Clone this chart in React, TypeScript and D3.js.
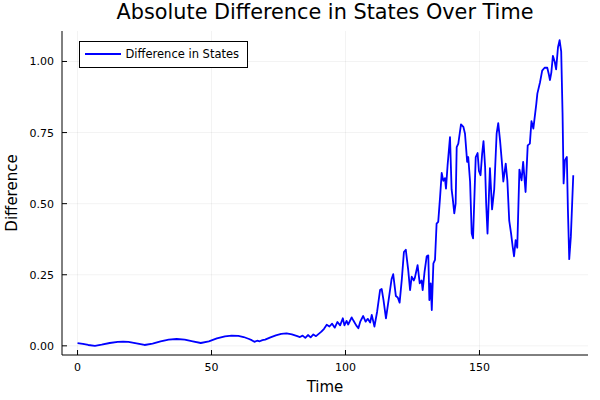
import React from "react";
import * as d3 from "d3";

const times: number[] = [
  0, 2, 4, 6.5, 9, 12, 15, 17, 19, 22, 25, 28, 31, 34, 37, 40, 43, 46, 49, 52, 55, 57.5, 60, 62, 64, 65, 66, 67, 68, 69, 70, 72, 74, 76, 78, 80, 82, 83, 84, 85, 86, 87, 88, 89, 90, 91, 92, 93, 94, 95, 96, 97, 98, 99, 99.6,
  100.4, 101, 102.3, 103, 104, 104.8, 105.5, 106.6, 107.5, 108.3, 109.2, 109.8, 110.8, 111.8, 112.9, 113.5, 114.2, 115.1, 116.3, 117.2, 117.8, 118.8, 119.5, 120.2,
  121, 121.8, 122.5, 123.4, 124.1, 124.7, 125.5, 125.9, 126.9, 127.7, 128.4, 128.8, 129.5, 130.3, 130.9, 131.3, 131.8, 132.2, 132.8, 133.4, 134, 134.6, 135.3,
  135.9, 136.5, 137.1, 137.5, 138.1, 139, 139.6, 140, 140.6, 141.1, 141.5, 142.1, 143.1, 144, 144.6, 145.4, 145.8, 146.5, 147.1, 147.6, 148.6, 149.3, 149.8,
  150.4, 151, 151.5, 152.1, 152.5, 153, 153.9, 154.7, 155.5, 156.4, 157, 157.7, 158.3, 158.9, 159.8, 160.4, 161.1, 161.8, 162.4, 162.9, 163.5, 164.1, 164.9,
  165.7, 166.3, 167.2, 168, 168.8, 169.4, 170.1, 171.2, 171.6, 172.6, 173.4, 174.3, 175.3, 175.9, 176.3, 176.8, 177.4, 178.1, 178.6, 179.3, 179.9, 180.5,
  181.0, 181.4, 181.9, 182.6, 183.0, 183.5, 184.1, 185,
];

const differences: number[] = [
  0.0095, 0.007, 0.003, 0.0, 0.004, 0.01, 0.014, 0.015, 0.014, 0.009, 0.003, 0.008, 0.016, 0.022, 0.024, 0.022, 0.016, 0.01, 0.016, 0.026, 0.033, 0.036, 0.035, 0.031, 0.024, 0.02, 0.014, 0.018, 0.016, 0.02, 0.022, 0.03, 0.037, 0.042, 0.044, 0.04, 0.034, 0.031, 0.036, 0.028, 0.038, 0.03, 0.04, 0.034, 0.042, 0.05, 0.06, 0.074, 0.068, 0.078, 0.064, 0.084, 0.072, 0.097, 0.072,
  0.088, 0.075, 0.1, 0.088, 0.072, 0.062, 0.085, 0.105, 0.085, 0.095, 0.082, 0.109, 0.068, 0.12, 0.196, 0.2, 0.16, 0.097, 0.175, 0.235, 0.252, 0.175, 0.17, 0.152,
  0.232, 0.33, 0.338, 0.267, 0.196, 0.243, 0.23, 0.24, 0.284, 0.22, 0.23, 0.196, 0.26, 0.315, 0.318, 0.161, 0.22, 0.126, 0.29, 0.302, 0.43, 0.436, 0.524,
  0.608, 0.58, 0.59, 0.553, 0.635, 0.734, 0.55, 0.52, 0.466, 0.5, 0.699, 0.711, 0.779, 0.77, 0.746, 0.647, 0.664, 0.576, 0.395, 0.378, 0.664, 0.678, 0.615,
  0.6, 0.676, 0.72, 0.63, 0.5, 0.395, 0.625, 0.48, 0.55, 0.746, 0.783, 0.72, 0.653, 0.578, 0.641, 0.582, 0.44, 0.395, 0.348, 0.315, 0.372, 0.345, 0.62,
  0.582, 0.647, 0.541, 0.705, 0.711, 0.79, 0.764, 0.85, 0.887, 0.927, 0.968, 0.978, 0.978, 0.954, 0.935, 0.96, 1.02, 0.998, 0.972, 1.05, 1.075, 1.035,
  0.82, 0.571, 0.653, 0.664, 0.48, 0.305, 0.384, 0.6,
];

const xTicks: number[] = [0, 50, 100, 150];
const yTicks: number[] = [0, 0.25, 0.5, 0.75, 1.0];
const yTickLabels: string[] = ["0.00", "0.25", "0.50", "0.75", "1.00"];

const FONT = "DejaVu Sans, sans-serif";

export default function App() {
  const W = 600, H = 400;
  const left = 62, right = 588, top = 31, bottom = 355;
  const x = d3.scaleLinear().domain([-5.8, 190.5]).range([left, right]);
  const y = d3.scaleLinear().domain([-0.0322, 1.1072]).range([bottom, top]);
  const pts: [number, number][] = times.map((t, i) => [t, differences[i]]);
  const line = d3.line<[number, number]>().x(d => x(d[0])).y(d => y(d[1]));

  return (
    <svg width={W} height={H} style={{ position: "absolute", left: 0, top: 0, background: "#fff" }} fontFamily={FONT}>
      <rect x={0} y={0} width={W} height={H} fill="#fff" />
      {xTicks.map(t => (
        <line key={"gx" + t} x1={x(t)} x2={x(t)} y1={top} y2={bottom} stroke="#000" strokeOpacity={0.1} strokeWidth={0.5} />
      ))}
      {yTicks.map(t => (
        <line key={"gy" + t} x1={left} x2={right} y1={y(t)} y2={y(t)} stroke="#000" strokeOpacity={0.1} strokeWidth={0.5} />
      ))}
      <path d={line(pts) || ""} fill="none" stroke="#0000ff" strokeWidth={1.8} strokeLinejoin="round" />
      <line x1={left} x2={right} y1={bottom} y2={bottom} stroke="#000" strokeWidth={1} />
      <line x1={left} x2={left} y1={top} y2={bottom} stroke="#000" strokeWidth={1} />
      {xTicks.map(t => (
        <g key={"tx" + t}>
          <line x1={x(t)} x2={x(t)} y1={bottom} y2={bottom - 5} stroke="#000" strokeWidth={1} />
          <text x={x(t)} y={371} textAnchor="middle" fontSize={11} fill="#000">{t}</text>
        </g>
      ))}
      {yTicks.map((t, i) => (
        <g key={"ty" + t}>
          <line x1={left} x2={left + 5} y1={y(t)} y2={y(t)} stroke="#000" strokeWidth={1} />
          <text x={54} y={y(t) + 4} textAnchor="end" fontSize={11} fill="#000">{yTickLabels[i]}</text>
        </g>
      ))}
      <text x={(left + right) / 2} y={19} textAnchor="middle" fontSize={20.8} fill="#000">Absolute Difference in States Over Time</text>
      <text x={(left + right) / 2} y={392} textAnchor="middle" fontSize={15} fill="#000">Time</text>
      <text transform={`translate(17,${(top + bottom) / 2}) rotate(-90)`} textAnchor="middle" fontSize={15} fill="#000">Difference</text>
      <rect x={79.5} y={41.5} width={168} height={26} fill="#fff" stroke="#000" strokeWidth={1} />
      <line x1={85} x2={121} y1={54} y2={54} stroke="#0000ff" strokeWidth={1.8} />
      <text x={125.5} y={58} fontSize={11.5} fill="#000">Difference in States</text>
    </svg>
  );
}
